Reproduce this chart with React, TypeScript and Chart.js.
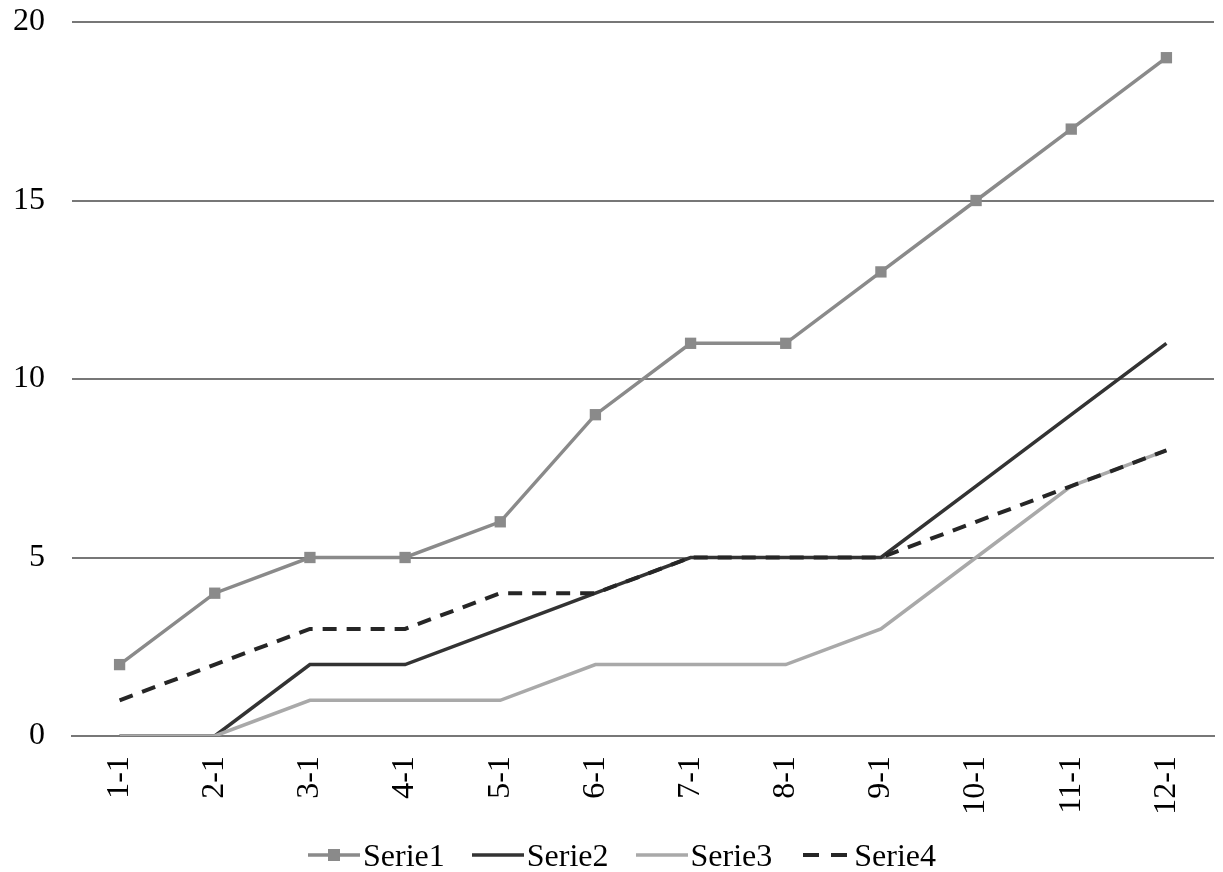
import React, { useEffect, useRef } from "react";
import { Chart, registerables } from "chart.js";

Chart.register(...registerables);

const categories = ["1-1", "2-1", "3-1", "4-1", "5-1", "6-1", "7-1", "8-1", "9-1", "10-1", "11-1", "12-1"];
const serie1 = [2, 4, 5, 5, 6, 9, 11, 11, 13, 15, 17, 19];
const serie2 = [0, 0, 2, 2, 3, 4, 5, 5, 5, 7, 9, 11];
const serie3 = [0, 0, 1, 1, 1, 2, 2, 2, 3, 5, 7, 8];
const serie4 = [1, 2, 3, 3, 4, 4, 5, 5, 5, 6, 7, 8];
const seriesNames = ["Serie1", "Serie2", "Serie3", "Serie4"];
const yMin = 0;
const yMax = 20;
const yStep = 5;

const FONT = "'Liberation Serif', 'Times New Roman', serif";
const C1 = "#8a8a8a";
const C2 = "#333333";
const C3 = "#a9a9a9";
const C4 = "#262626";
const GRID = "#777777";

type LegendSpec = { name: string; color: string; width: number; dash?: string; marker?: boolean };
const legendSpecs: LegendSpec[] = [
  { name: seriesNames[0], color: C1, width: 3.5, marker: true },
  { name: seriesNames[1], color: C2, width: 3.5 },
  { name: seriesNames[2], color: C3, width: 3.5 },
  { name: seriesNames[3], color: C4, width: 4, dash: "16 12" },
];

function LegendIcon({ spec }: { spec: LegendSpec }) {
  return (
    <svg width={52} height={20} style={{ display: "block", marginRight: 3 }}>
      <line
        x1={spec.dash ? 4 : 0}
        y1={10}
        x2={spec.dash ? 48 : 52}
        y2={10}
        stroke={spec.color}
        strokeWidth={spec.width}
        strokeDasharray={spec.dash}
      />
      {spec.marker ? <rect x={20} y={4} width={12} height={12} fill={spec.color} /> : null}
    </svg>
  );
}

export default function App() {
  const ref = useRef<HTMLCanvasElement | null>(null);

  useEffect(() => {
    document.body.style.margin = "0";
    const canvas = ref.current!;
    const chart = new Chart(canvas, {
      type: "line",
      data: {
        labels: categories,
        datasets: [
          {
            label: seriesNames[0],
            data: serie1,
            borderColor: C1,
            backgroundColor: C1,
            borderWidth: 3.5,
            pointStyle: "rect",
            pointRadius: 8,
            pointBorderWidth: 0,
            pointBackgroundColor: C1,
            order: 3,
          },
          {
            label: seriesNames[1],
            data: serie2,
            borderColor: C2,
            backgroundColor: C2,
            borderWidth: 3.5,
            pointRadius: 0,
            order: 2,
          },
          {
            label: seriesNames[2],
            data: serie3,
            borderColor: C3,
            backgroundColor: C3,
            borderWidth: 3.5,
            pointRadius: 0,
            order: 1,
          },
          {
            label: seriesNames[3],
            data: serie4,
            borderColor: C4,
            backgroundColor: C4,
            borderWidth: 4,
            borderDash: [14, 10],
            pointRadius: 0,
            order: 0,
          },
        ],
      },
      options: {
        animation: false,
        responsive: false,
        devicePixelRatio: 1,
        layout: { padding: { left: 0, right: 9, top: 22, bottom: 0 } },
        plugins: {
          tooltip: { enabled: false },
          legend: { display: false },
        },
        scales: {
          x: {
            offset: true,
            grid: { display: false, drawTicks: false },
            border: { display: true, color: GRID, width: 2 },
            ticks: {
              color: "#000",
              font: { family: FONT, size: 32 },
              minRotation: 90,
              maxRotation: 90,
              padding: 20,
              autoSkip: false,
            },
            afterFit: (s: any) => {
              s.height = 136;
              s.paddingLeft = 0;
              s.paddingRight = 0;
              s.paddingTop = 0;
              s.paddingBottom = 0;
            },
          },
          y: {
            min: yMin,
            max: yMax,
            grid: { color: GRID, lineWidth: 2, drawTicks: false },
            border: { display: false },
            ticks: {
              stepSize: yStep,
              color: "#000",
              font: { family: FONT, size: 32 },
              padding: 27,
            },
            afterFit: (s: any) => {
              s.width = 72;
              s.paddingTop = 0;
              s.paddingBottom = 0;
              s.paddingLeft = 0;
              s.paddingRight = 0;
            },
          },
        },
      },
    });
    return () => chart.destroy();
  }, []);

  return (
    <div style={{ position: "relative", width: 1223, height: 872 }}>
      <canvas ref={ref} width={1223} height={872} style={{ display: "block" }} />
      <div
        style={{
          position: "absolute",
          left: 308,
          top: 838,
          height: 34,
          display: "flex",
          alignItems: "center",
          fontFamily: FONT,
          fontSize: 32,
          lineHeight: "34px",
          color: "#000",
          whiteSpace: "nowrap",
        }}
      >
        {legendSpecs.map((spec, i) => (
          <div key={spec.name} style={{ display: "flex", alignItems: "center", marginRight: i < legendSpecs.length - 1 ? 27 : 0 }}>
            <LegendIcon spec={spec} />
            <span>{spec.name}</span>
          </div>
        ))}
      </div>
    </div>
  );
}
